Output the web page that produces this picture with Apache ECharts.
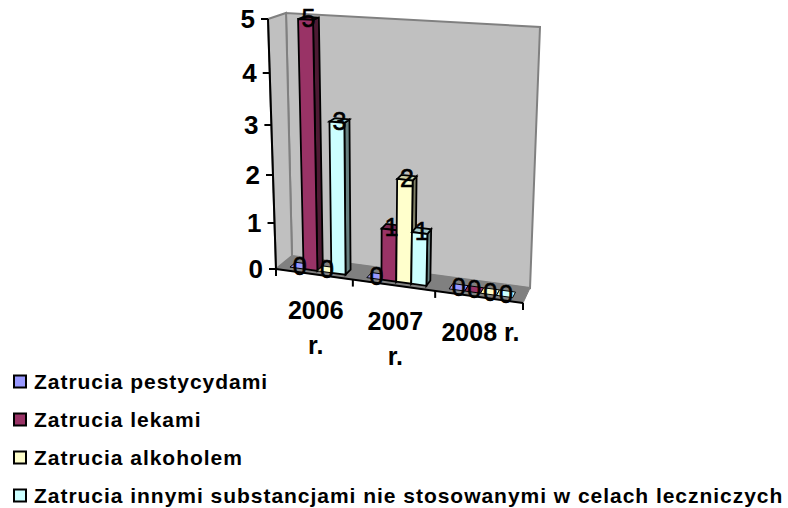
<!DOCTYPE html>
<html>
<head>
<meta charset="utf-8">
<style>
  html, body { margin: 0; background: #fff; }
  #main { width: 788px; height: 508px; }
  /* legend text is widely spaced in the original */
  #main text[style*="21px"] { letter-spacing: 0.97px; }
</style>
<script src="https://cdn.jsdelivr.net/npm/echarts@6/dist/echarts.min.js"></script>
</head>
<body>
<div id="main"></div>
<script>
var categories = ['2006\nr.', '2007\nr.', '2008 r.'];
var yTicks = [0, 1, 2, 3, 4, 5];
var pestycydy = [0, 0, 0];
var leki = [5, 1, 0];
var alkohol = [0, 2, 0];
var inne = [3, 1, 0];

var seriesNames = [
  'Zatrucia pestycydami',
  'Zatrucia lekami',
  'Zatrucia alkoholem',
  'Zatrucia innymi substancjami nie stosowanymi w celach leczniczych'
];
var seriesValues = [pestycydy, leki, alkohol, inne];
var seriesColors = ['#9999FF', '#993366', '#FFFFCC', '#CCFFFF'];

var FONT = '"Liberation Sans", Arial, sans-serif';
var GRID = { left: 276, top: 19, width: 247, height: 250 };

// corners of the 3d box as seen in the picture: front/back, bottom/top, left/right
var FBL = [276, 269], FBR = [523, 303], FTL = [268, 19], FTR = [537, 35];
var BBL = [292, 256], BBR = [530, 288], BTL = [286, 13], BTR = [540, 27];

function mix(a, b, t) {
  return [a[0] + (b[0] - a[0]) * t, a[1] + (b[1] - a[1]) * t];
}
// slight perspective along the width and on the axis ticks
function warp(t) {
  return t * (0.9 + 0.1 * t);
}
function project(u, v, d) {
  var fb = mix(FBL, FBR, u), ft = mix(FTL, FTR, u);
  var bb = mix(BBL, BBR, u), bt = mix(BTL, BTR, u);
  return mix(mix(fb, ft, v), mix(bb, bt, v), d);
}
function toUV(p) {
  return [(p[0] - GRID.left) / GRID.width, (GRID.top + GRID.height - p[1]) / GRID.height];
}
function shade(hex, k) {
  var n = parseInt(hex.slice(1), 16);
  return 'rgb(' + Math.round((n >> 16) * k) + ',' + Math.round(((n >> 8) & 255) * k) + ',' + Math.round((n & 255) * k) + ')';
}
function poly(points, fill, stroke, width) {
  return { type: 'polygon', shape: { points: points }, style: { fill: fill, stroke: stroke || null, lineWidth: width || 0 } };
}
function seg(a, b, color, width) {
  return { type: 'line', shape: { x1: a[0], y1: a[1], x2: b[0], y2: b[1] }, style: { stroke: color, lineWidth: width } };
}

var BAR_SHARE = 0.73 / 4;
var D0 = 0.25, D1 = 0.62;

function barBox(api, seriesIdx) {
  var p = api.coord([api.value(0), api.value(1)]);
  var uv = toUV(p);
  var band = api.size([1, 0])[0] / GRID.width;
  var u0 = uv[0] + (seriesIdx - 2) * band * BAR_SHARE;
  return { u0: warp(u0), u1: warp(u0 + band * BAR_SHARE), v: uv[1] };
}

function renderBar(seriesIdx) {
  return function (params, api) {
    var b = barBox(api, seriesIdx), c = seriesColors[seriesIdx];
    var ink = '#000', w = 1.8;
    var top = [project(b.u0, b.v, D0), project(b.u1, b.v, D0), project(b.u1, b.v, D1), project(b.u0, b.v, D1)];
    if (b.v === 0) {
      return { type: 'group', children: [poly(top, c, ink, 1)] };
    }
    return {
      type: 'group',
      children: [
        poly([project(b.u1, 0, D0), project(b.u1, 0, D1), project(b.u1, b.v, D1), project(b.u1, b.v, D0)], shade(c, 0.5), ink, w),
        poly(top, shade(c, 0.8), ink, w),
        poly([project(b.u0, 0, D0), project(b.u1, 0, D0), project(b.u1, b.v, D0), project(b.u0, b.v, D0)], c, ink, w)
      ]
    };
  };
}

function renderWalls() {
  var edge = '#808080';
  return {
    type: 'group',
    children: [
      poly([BBL, BTL, BTR, BBR], '#C0C0C0', edge, 2),
      poly([FBL, FTL, BTL, BBL], '#C0C0C0', edge, 2),
      poly([FBL, BBL, BBR, FBR], '#808080', edge, 1),
      seg(FTL, FBL, '#000', 2),
      seg(FBL, FBR, '#000', 2)
    ]
  };
}

function renderYTick(params, api) {
  var v = toUV(api.coord([0, api.value(1)]))[1];
  var p = project(0, warp(v), 0);
  return {
    type: 'group',
    children: [
      seg([p[0] - 7, p[1]], p, '#000', 2),
      { type: 'text', style: { text: String(api.value(1)), x: p[0] - 13, y: p[1], align: 'right', verticalAlign: 'middle', fill: '#000', fontFamily: FONT, fontWeight: 'bold', fontSize: 26 } }
    ]
  };
}

function renderXTick(params, api) {
  var idx = api.value(0);
  var c = toUV(api.coord([idx, 0]))[0];
  var band = api.size([1, 0])[0] / GRID.width;
  var right = project(warp(c + band / 2), 0, 0);
  var mid = project(warp(c), 0, 0);
  var children = [seg(right, [right[0], right[1] + 7], '#000', 2)];
  if (idx === 0) {
    children.push(seg(FBL, [FBL[0], FBL[1] + 7], '#000', 2));
  }
  children.push({ type: 'text', style: { text: categories[idx], x: mid[0] + 2, y: mid[1] + 18, align: 'center', verticalAlign: 'top', lineHeight: 35, fill: '#000', fontFamily: FONT, fontWeight: 'bold', fontSize: 25 } });
  return { type: 'group', children: children };
}

function renderLabel(params, api) {
  var seriesIdx = api.value(2);
  var b = barBox(api, seriesIdx);
  var p = project((b.u0 + b.u1) / 2, b.v, (D0 + D1) / 2);
  return { type: 'text', style: { text: String(api.value(1)), x: p[0], y: p[1], align: 'center', verticalAlign: 'middle', fill: '#000', stroke: '#000', lineWidth: 0.6, fontFamily: FONT, fontSize: 25 } };
}

var series = [{
  type: 'custom', z: 1, silent: true, renderItem: renderWalls, data: [[0, 0]], encode: { x: 0, y: 1 }
}, {
  type: 'custom', z: 1, silent: true, renderItem: renderYTick, data: yTicks.map(function (v) { return [0, v]; }), encode: { x: 0, y: 1 }
}, {
  type: 'custom', z: 1, silent: true, renderItem: renderXTick, data: categories.map(function (c, i) { return [i, 0]; }), encode: { x: 0, y: 1 }
}];

seriesNames.forEach(function (name, i) {
  series.push({
    type: 'custom',
    name: name,
    z: 2,
    itemStyle: { color: seriesColors[i] },
    renderItem: renderBar(i),
    data: seriesValues[i].map(function (val, k) { return [k, val]; }),
    encode: { x: 0, y: 1 }
  });
});

var labelData = [];
seriesValues.forEach(function (vals, i) {
  vals.forEach(function (val, k) { labelData.push([k, val, i]); });
});
series.push({ type: 'custom', z: 3, silent: true, renderItem: renderLabel, data: labelData, encode: { x: 0, y: 1 } });

var chart = echarts.init(document.getElementById('main'), null, { renderer: 'svg' });
chart.setOption({
  animation: false,
  backgroundColor: '#fff',
  grid: GRID,
  xAxis: { type: 'category', data: categories, show: false },
  yAxis: { type: 'value', min: 0, max: 5, interval: 1, show: false },
  legend: {
    data: seriesNames,
    orient: 'vertical',
    left: 13,
    top: 371,
    icon: 'rect',
    itemWidth: 12,
    itemHeight: 12,
    itemGap: 17,
    selectedMode: false,
    padding: 0,
    itemStyle: { borderColor: '#000', borderWidth: 2 },
    textStyle: { color: '#000', fontFamily: FONT, fontWeight: 'bold', fontSize: 21, padding: [0, 0, 0, 3] }
  },
  series: series
});
</script>
</body>
</html>
